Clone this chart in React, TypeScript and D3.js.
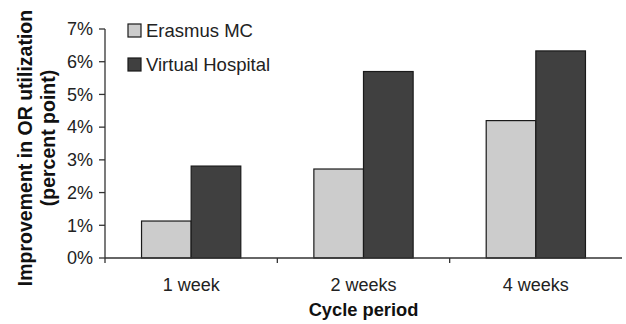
import React from "react";
import * as d3 from "d3";

const categories = ["1 week", "2 weeks", "4 weeks"];
const seriesNames = ["Erasmus MC", "Virtual Hospital"];
const erasmusMC = [1.13, 2.72, 4.2];
const virtualHospital = [2.81, 5.7, 6.33];
const yTicks = [0, 1, 2, 3, 4, 5, 6, 7];
const colors = ["#cccccc", "#404040"];

const W = 626;
const H = 324;
const left = 105;
const right = 622;
const top = 29;
const bottom = 258;
const FONT = "'Liberation Sans', Arial, Helvetica, sans-serif";

export default function App() {
  const x = d3.scaleBand<string>().domain(categories).range([left, right]).paddingInner(0).paddingOuter(0);
  const groupW = x.bandwidth() * 0.576;
  const x1 = d3.scaleBand<string>().domain(seriesNames).range([0, groupW]).padding(0);
  const y = d3.scaleLinear().domain([0, 7]).range([bottom, top]);
  const values = [erasmusMC, virtualHospital];
  const axisColor = "#333";

  return (
    <svg width={W} height={H} style={{ position: "absolute", left: 0, top: 0, background: "#fff" }} fontFamily={FONT}>
      <rect x={0} y={0} width={W} height={H} fill="#fff" />
      {/* bars */}
      {categories.map((c, i) =>
        seriesNames.map((s, j) => {
          const x0 = (x(c) as number) + (x.bandwidth() - groupW) / 2 + (x1(s) as number);
          const v = values[j][i];
          return (
            <rect
              key={c + s}
              x={x0}
              y={y(v)}
              width={x1.bandwidth()}
              height={y(0) - y(v)}
              fill={colors[j]}
              stroke="#1a1a1a"
              strokeWidth={1.2}
            />
          );
        })
      )}
      {/* y axis */}
      <line x1={left} x2={left} y1={y(7)} y2={bottom + 5} stroke={axisColor} strokeWidth={1.3} />
      {yTicks.map((t) => (
        <g key={t}>
          <line x1={left - 6} x2={left} y1={y(t)} y2={y(t)} stroke={axisColor} strokeWidth={1.3} />
          <text x={left - 12} y={y(t)} dy="0.35em" textAnchor="end" fontSize={18} fill="#222">
            {t}%
          </text>
        </g>
      ))}
      {/* x axis */}
      <line x1={left} x2={right} y1={bottom} y2={bottom} stroke={axisColor} strokeWidth={1.3} />
      {categories.slice(1).map((c) => (
        <line key={c} x1={x(c) as number} x2={x(c) as number} y1={bottom} y2={bottom + 5} stroke={axisColor} strokeWidth={1.3} />
      ))}
      {categories.map((c) => (
        <text key={c} x={(x(c) as number) + x.bandwidth() / 2} y={291} textAnchor="middle" fontSize={18} fill="#222">
          {c}
        </text>
      ))}
      <text x={(left + right) / 2} y={316} textAnchor="middle" fontSize={18.3} fontWeight="bold" fill="#111">
        Cycle period
      </text>
      {/* y title */}
      <g transform={`translate(32, 148) rotate(-90)`}>
        <text x={0} y={0} textAnchor="middle" fontSize={19.5} fontWeight="bold" fill="#111">
          Improvement in OR utilization
        </text>
      </g>
      <g transform={`translate(55, 138) rotate(-90)`}>
        <text x={0} y={0} textAnchor="middle" fontSize={19.5} fontWeight="bold" fill="#111">
          (percent point)
        </text>
      </g>
      {/* legend */}
      {seriesNames.map((s, j) => (
        <g key={s} transform={`translate(128, ${24 + j * 34})`}>
          <rect x={0} y={0} width={13} height={13} fill={colors[j]} stroke="#1a1a1a" strokeWidth={1.2} />
          <text x={18} y={6.5} dy="0.35em" fontSize={18.5} fill="#222">
            {s}
          </text>
        </g>
      ))}
    </svg>
  );
}
